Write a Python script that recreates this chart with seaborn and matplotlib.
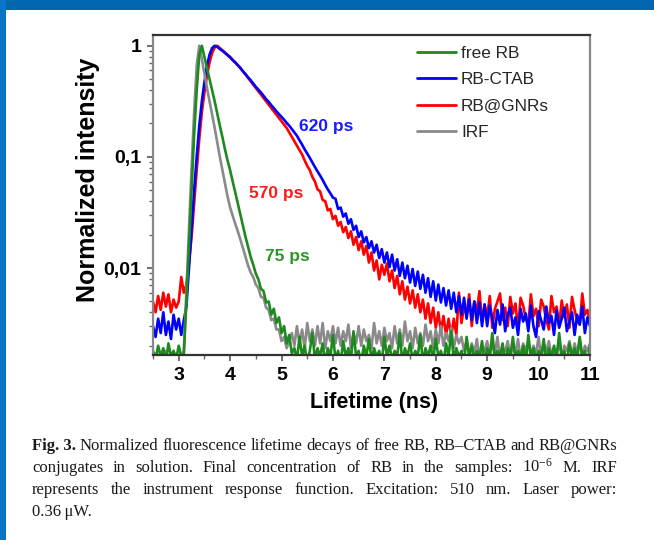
import numpy as np
import pandas as pd
import matplotlib
matplotlib.use("Agg")
import matplotlib.pyplot as plt
import seaborn as sns
from matplotlib.ticker import FixedLocator, FixedFormatter, LogLocator, NullFormatter, MultipleLocator
from matplotlib.lines import Line2D
from matplotlib.patches import Rectangle
from matplotlib.transforms import IdentityTransform

sns.set_theme(style="white")
plt.rcParams['font.family'] = ['Liberation Sans', 'DejaVu Sans']
plt.rcParams['mathtext.fontset'] = 'custom'
plt.rcParams['mathtext.rm'] = 'Liberation Serif'
plt.rcParams['mathtext.it'] = 'Liberation Serif:italic'
plt.rcParams['mathtext.bf'] = 'Liberation Serif:bold'

# ---------------- data ----------------
time_ns = np.round(np.arange(2.50, 11.001, 0.05), 2)

free_rb = [0.0018, 0.0015, 0.0020, 0.0016, 0.0019, 0.0014, 0.0021, 0.0016, 0.0018, 0.0015, 0.0020, 0.0016, 0.0017,
           0.0050, 0.016, 0.050, 0.158, 0.398, 0.832, 1.0, 0.794, 0.631, 0.501, 0.398, 0.316, 0.245, 0.191, 0.151, 0.117, 0.093,
           0.076, 0.060, 0.048, 0.038, 0.030, 0.024, 0.019, 0.0155, 0.0126, 0.0107,
           0.0089, 0.0079, 0.0065, 0.0062, 0.0049, 0.0050, 0.0038, 0.0043, 0.0032, 0.0036,
           0.0026, 0.0030, 0.0021, 0.0025, 0.0017,
           0.0019, 0.0015, 0.0024, 0.0016, 0.0020, 0.0014, 0.0018, 0.0026, 0.0015, 0.0019,
           0.0016, 0.0021, 0.0014, 0.0019, 0.0016, 0.0025, 0.0015, 0.0018, 0.0014, 0.0022,
           0.0016, 0.0019, 0.0015, 0.0027, 0.0016, 0.0018, 0.0014, 0.0020, 0.0016, 0.0023,
           0.0015, 0.0019, 0.0016, 0.0018, 0.0014, 0.0024, 0.0016, 0.0020, 0.0015, 0.0018,
           0.0016, 0.0026, 0.0014, 0.0019, 0.0016, 0.0021, 0.0015, 0.0018, 0.0016, 0.0025,
           0.0014, 0.0019, 0.0016, 0.0020, 0.0015, 0.0023, 0.0016, 0.0018, 0.0014, 0.0021,
           0.0016, 0.0027, 0.0015, 0.0019, 0.0016, 0.0018, 0.0014, 0.0024, 0.0016, 0.0020,
           0.0015, 0.0018, 0.0016, 0.0022, 0.0014, 0.0019, 0.0016, 0.0026, 0.0015, 0.0018,
           0.0016, 0.0021, 0.0014, 0.0019, 0.0016, 0.0024, 0.0015, 0.0018, 0.0016, 0.0020,
           0.0014, 0.0025, 0.0016, 0.0019, 0.0015, 0.0018, 0.0016, 0.0023, 0.0014, 0.0019,
           0.0016, 0.0020, 0.0015, 0.0026, 0.0016, 0.0018, 0.0014, 0.0021, 0.0016, 0.0019,
           0.0015, 0.0024, 0.0016, 0.0018, 0.0014, 0.0020]

rb_ctab = [0.0030, 0.0024, 0.0035, 0.0026, 0.0040, 0.0025, 0.0033, 0.0023, 0.0038, 0.0028, 0.0035, 0.0025, 0.0034,
           0.0045, 0.0100, 0.022, 0.050, 0.100, 0.191, 0.316, 0.468, 0.661, 0.832, 0.955, 1.0, 0.977, 0.933, 0.902, 0.861, 0.822,
           0.785, 0.741, 0.708, 0.668, 0.631, 0.589, 0.556, 0.519, 0.490, 0.457,
           0.427, 0.403, 0.380, 0.355, 0.331, 0.313, 0.292, 0.275, 0.257, 0.243,
           0.229, 0.216, 0.202, 0.191, 0.178, 0.166, 0.155, 0.141, 0.129, 0.117,
           0.107, 0.098, 0.089, 0.081, 0.074, 0.068, 0.062, 0.056, 0.051, 0.047,
           0.043, 0.042, 0.034, 0.035, 0.029, 0.031, 0.025, 0.0275, 0.022, 0.024,
           0.019, 0.0214, 0.017, 0.019, 0.0151, 0.0174, 0.0138, 0.0162, 0.0123, 0.0148,
           0.0112, 0.0138, 0.0102, 0.0132, 0.0095, 0.0120, 0.0085, 0.0112, 0.0081, 0.0105,
           0.0074, 0.0098, 0.0069, 0.0093, 0.0065, 0.0087, 0.0060, 0.0081, 0.0055, 0.0076,
           0.0051, 0.0071, 0.0049, 0.0066, 0.0046, 0.0063, 0.0043, 0.0060, 0.0040, 0.0056,
           0.0038, 0.0054, 0.0035, 0.0052, 0.0034, 0.0050, 0.0032, 0.0049, 0.0030, 0.0047,
           0.0030, 0.0046, 0.0035, 0.0026, 0.0042, 0.0031, 0.0047, 0.0027, 0.0038, 0.0044,
           0.0029, 0.0036, 0.0025, 0.0043, 0.0033, 0.0039, 0.0027, 0.0046, 0.0030, 0.0024,
           0.0041, 0.0034, 0.0028, 0.0045, 0.0032, 0.0037, 0.0025, 0.0042, 0.0029, 0.0035,
           0.0044, 0.0027, 0.0033, 0.0040, 0.0025, 0.0038, 0.0031, 0.0045, 0.0026, 0.0036, 0.0030]

rb_gnrs = [0.0050, 0.0040, 0.0056, 0.0042, 0.0060, 0.0045, 0.0058, 0.0040, 0.0052, 0.0044, 0.0050, 0.0083, 0.0060,
           0.0071, 0.0112, 0.019, 0.038, 0.076, 0.145, 0.251, 0.380, 0.537, 0.708, 0.861, 0.966, 1.0, 0.955, 0.912, 0.871, 0.832,
           0.794, 0.750, 0.708, 0.668, 0.631, 0.589, 0.550, 0.513, 0.479, 0.447,
           0.417, 0.389, 0.363, 0.339, 0.316, 0.295, 0.275, 0.257, 0.240, 0.224,
           0.209, 0.195, 0.182, 0.166, 0.151, 0.138, 0.126, 0.115, 0.105, 0.093,
           0.083, 0.076, 0.066, 0.060, 0.051, 0.049, 0.041, 0.040, 0.033, 0.034,
           0.0275, 0.0295, 0.024, 0.026, 0.021, 0.0234, 0.0186, 0.0214, 0.0162, 0.019,
           0.0145, 0.0174, 0.0132, 0.0158, 0.0112, 0.0138, 0.0095, 0.0117, 0.0079, 0.0107,
           0.0087, 0.0110, 0.0076, 0.0095, 0.0066, 0.0085, 0.0058, 0.0076, 0.0052, 0.0068,
           0.0048, 0.0063, 0.0044, 0.0058, 0.0040, 0.0052, 0.0035, 0.0048, 0.0032, 0.0044,
           0.0029, 0.0040, 0.0027, 0.0037, 0.0025, 0.0035, 0.0024, 0.0035, 0.0025, 0.0060,
           0.0032, 0.0045, 0.0038, 0.0058, 0.0030, 0.0050, 0.0041, 0.0062, 0.0033, 0.0047,
           0.0036, 0.0056, 0.0029, 0.0043, 0.0050, 0.0059, 0.0034, 0.0044, 0.0030, 0.0055,
           0.0039, 0.0048, 0.0028, 0.0054, 0.0046, 0.0035, 0.0031, 0.0058, 0.0037, 0.0043,
           0.0030, 0.0052, 0.0045, 0.0034, 0.0028, 0.0056, 0.0040, 0.0045, 0.0030, 0.0051,
           0.0036, 0.0047, 0.0029, 0.0055, 0.0042, 0.0033, 0.0031, 0.0059, 0.0038, 0.0042, 0.0032]

irf = [0.0015, 0.0017, 0.0014, 0.0016, 0.0015, 0.0018, 0.0014, 0.0016, 0.0015, 0.0017, 0.0014, 0.0016, 0.0018,
       0.0063, 0.022, 0.079, 0.251, 0.661, 1.0, 0.759, 0.562, 0.417, 0.316, 0.240, 0.182, 0.135, 0.100, 0.076, 0.058, 0.044,
       0.035, 0.0295, 0.025, 0.0214, 0.018, 0.0151, 0.0126, 0.0105, 0.0091, 0.0083,
       0.0071, 0.0066, 0.0055, 0.0054, 0.0044, 0.0042, 0.0034, 0.0035, 0.0028, 0.0028,
       0.0022, 0.0024, 0.0019, 0.0022, 0.0026, 0.0020, 0.0030, 0.0021, 0.0028, 0.0019,
       0.0032, 0.0022, 0.0028, 0.0020, 0.0030, 0.0021, 0.0032, 0.0019, 0.0027, 0.0022,
       0.0030,
       0.0021, 0.0029, 0.0020, 0.0027, 0.0022, 0.0031, 0.0019, 0.0026, 0.0021, 0.0030,
       0.0020, 0.0028, 0.0022, 0.0025, 0.0019, 0.0032, 0.0021, 0.0027, 0.0020, 0.0029,
       0.0022, 0.0026, 0.0019, 0.0030, 0.0021, 0.0028, 0.0020, 0.0033, 0.0022, 0.0027,
       0.0019, 0.0029, 0.0021, 0.0026, 0.0020, 0.0031, 0.0022, 0.0027, 0.0019, 0.0028,
       0.0021, 0.0030, 0.0020, 0.0026, 0.0022, 0.0029, 0.0019, 0.0025, 0.0021, 0.0024,
       0.0018, 0.0022, 0.0016, 0.0021, 0.0017, 0.0023, 0.0015, 0.0020, 0.0018, 0.0022,
       0.0016, 0.0021, 0.0017, 0.0024, 0.0015, 0.0019, 0.0018, 0.0022, 0.0016, 0.0020,
       0.0017, 0.0023, 0.0015, 0.0021, 0.0018, 0.0022, 0.0016, 0.0020, 0.0017, 0.0024,
       0.0015, 0.0021, 0.0018, 0.0022, 0.0016, 0.0019, 0.0017, 0.0023, 0.0015, 0.0020,
       0.0018, 0.0022, 0.0016, 0.0021, 0.0017, 0.0023, 0.0015, 0.0020, 0.0018, 0.0021]

legend_names = ["free RB", "RB-CTAB", "RB@GNRs", "IRF"]
line_colors = {"free RB": "#1e8a1e", "RB-CTAB": "#0000ff", "RB@GNRs": "#ff0000", "IRF": "#8a8a8a"}
draw_order = ["RB@GNRs", "RB-CTAB", "IRF", "free RB"]

lifetimes = ["620 ps", "570 ps", "75 ps"]
lifetime_pos = [(5.86, 0.186), (4.90, 0.047), (5.12, 0.0126)]
lifetime_colors = ["#1a1aff", "#ff1a1a", "#2a962a"]

x_ticks = [3, 4, 5, 6, 7, 8, 9, 10, 11]
y_ticks = [0.01, 0.1, 1]
y_tick_labels = ["0,01", "0,1", "1"]

series = {"free RB": free_rb, "RB-CTAB": rb_ctab, "RB@GNRs": rb_gnrs, "IRF": irf}
for k, v in series.items():
    if len(v) != len(time_ns):
        print("LENGTH MISMATCH", k, len(v), len(time_ns))

frames = []
for name in draw_order:
    v = series[name]
    n = min(len(v), len(time_ns))
    frames.append(pd.DataFrame({"time": time_ns[:n], "intensity": v[:n], "sample": name}))
df = pd.concat(frames, ignore_index=True)

# ---------------- figure ----------------
W, H = 654, 540
fig = plt.figure(figsize=(W / 100, H / 100), dpi=100)
fig.patch.set_facecolor("white")

# blue page frame
fig.patches.append(Rectangle((0, 1 - 10 / H), 1, 10 / H, transform=fig.transFigure,
                             facecolor="#0066ad", edgecolor="none", zorder=0))
fig.patches.append(Rectangle((0, 0), 6 / W, 1, transform=fig.transFigure,
                             facecolor="#0a74c6", edgecolor="none", zorder=0))

ax_l, ax_r, ax_t, ax_b = 153, 590, 35, 355
ax = fig.add_axes([ax_l / W, 1 - ax_b / H, (ax_r - ax_l) / W, (ax_b - ax_t) / H])

sns.lineplot(data=df, x="time", y="intensity", hue="sample", hue_order=draw_order,
             palette=line_colors, estimator=None, sort=False, linewidth=1.9,
             legend=False, ax=ax)

ax.set_yscale("log")
ax.set_xlim(2.5, 11)
ax.set_ylim(0.00165, 1.25)

ax.xaxis.set_major_locator(FixedLocator(x_ticks))
ax.xaxis.set_major_formatter(FixedFormatter([str(t) for t in x_ticks]))
ax.xaxis.set_minor_locator(MultipleLocator(0.5))
ax.yaxis.set_major_locator(FixedLocator(y_ticks))
ax.yaxis.set_major_formatter(FixedFormatter(y_tick_labels))
ax.yaxis.set_minor_locator(LogLocator(base=10, subs=np.arange(2, 10), numticks=30))
ax.yaxis.set_minor_formatter(NullFormatter())

ax.tick_params(axis="both", which="major", direction="out", length=4.5, width=1.2,
               color="#555555", labelsize=14, pad=4, bottom=True, left=True, top=False, right=False)
ax.tick_params(axis="both", which="minor", direction="out", length=2.8, width=1.0,
               color="#666666", bottom=True, left=True, top=False, right=False)
for lbl in ax.get_xticklabels() + ax.get_yticklabels():
    lbl.set_fontweight("bold")
    lbl.set_color("black")

for side, col in [("top", "#333333"), ("bottom", "#333333"), ("left", "#888888"), ("right", "#888888")]:
    ax.spines[side].set_visible(True)
    ax.spines[side].set_color(col)
    ax.spines[side].set_linewidth(1.6)

ax.set_xlabel("Lifetime (ns)", fontsize=15.5, fontweight="bold", color="black")
ax.set_ylabel("Normalized intensity", fontsize=18, fontweight="bold", color="black")
ax.xaxis.set_label_coords((374 - ax_l) / (ax_r - ax_l), -(392 - ax_b) / (ax_b - ax_t))
ax.yaxis.set_label_coords((100 - ax_l) / (ax_r - ax_l), (ax_b - 180) / (ax_b - ax_t))

for txt, (tx, ty), c in zip(lifetimes, lifetime_pos, lifetime_colors):
    ax.text(tx, ty, txt, color=c, fontsize=12.5, fontweight="bold", ha="center", va="center")

handles = [Line2D([0], [0], color=line_colors[n], lw=2.0) for n in legend_names]
leg = ax.legend(handles, legend_names, loc="upper left",
                bbox_to_anchor=((417 - ax_l) / (ax_r - ax_l), 1 - (46 - ax_t) / (ax_b - ax_t)),
                frameon=False, fontsize=12.4, handlelength=2.25, handletextpad=0.3,
                labelspacing=0.66, borderpad=0, borderaxespad=0)

# ---------------- caption ----------------
cap_lines = [
    ([("Fig. 3.", True)] + [(w, False) for w in "Normalized fluorescence lifetime decays of free RB, RB\u2013CTAB and RB@GNRs".split()], 450, True),
    ([(w, False) for w in ["conjugates", "in", "solution.", "Final", "concentration", "of", "RB", "in", "the", "samples:", "10$^{-6}$", "M.", "IRF"]], 472, True),
    ([(w, False) for w in "represents the instrument response function. Excitation: 510\u2009nm. Laser power:".split()], 494, True),
    ([(w, False) for w in ["0.36\u2009\u03bcW."]], 516, False),
]
cap_x0, cap_x1 = 32, 617
fig.canvas.draw()
renderer = fig.canvas.get_renderer()
for words, base, justify in cap_lines:
    objs = []
    for w, b in words:
        t = fig.text(0, H - base, w, transform=IdentityTransform(), fontsize=12,
                     family=["Liberation Serif", "DejaVu Serif"], fontweight="bold" if b else "normal",
                     va="baseline", ha="left", color="#1a1a1a")
        objs.append(t)
    widths = [o.get_window_extent(renderer).width for o in objs]
    if justify and len(objs) > 1:
        gap = (cap_x1 - cap_x0 - sum(widths)) / (len(objs) - 1)
    else:
        gap = 4
    x = cap_x0
    for o, wd in zip(objs, widths):
        o.set_x(x)
        x += wd + gap

fig.savefig("out.png", dpi=100, facecolor="white")
